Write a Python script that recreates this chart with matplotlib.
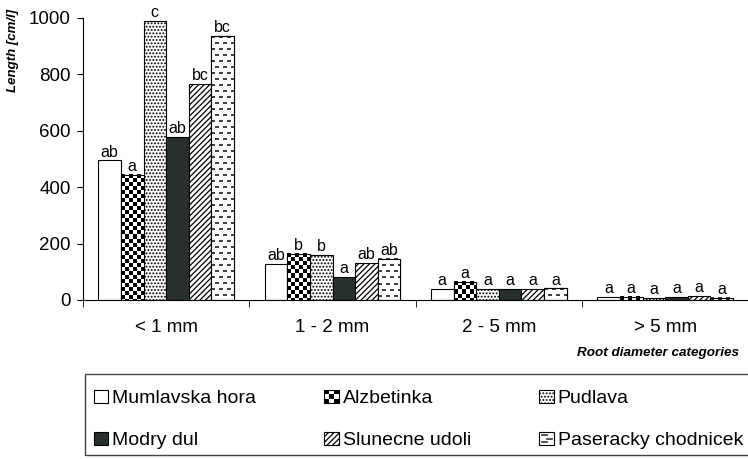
import numpy as np
import matplotlib.pyplot as plt
from matplotlib.patches import Patch, Rectangle
from matplotlib.lines import Line2D
from matplotlib.legend_handler import HandlerBase

plt.rcParams['font.family'] = ['Liberation Sans', 'DejaVu Sans']
plt.rcParams['hatch.linewidth'] = 0.9

categories = ["< 1 mm", "1 - 2 mm", "2 - 5 mm", "> 5 mm"]
sites = ["Mumlavska hora", "Alzbetinka", "Pudlava",
         "Modry dul", "Slunecne udoli", "Paseracky chodnicek"]

mumlavska = [495, 128, 39, 12]
alzbetinka = [445, 164, 64, 12]
pudlava = [990, 160, 39, 8]
modry = [578, 82, 39, 10]
slunecne = [765, 132, 39, 14]
paseracky = [935, 146, 41, 8]
values = [mumlavska, alzbetinka, pudlava, modry, slunecne, paseracky]

letters = [["ab", "ab", "a", "a"],
           ["a", "b", "a", "a"],
           ["c", "b", "a", "a"],
           ["ab", "a", "a", "a"],
           ["bc", "ab", "a", "a"],
           ["bc", "ab", "a", "a"]]


# pixel patterns (1 = white, 0 = dark)
def checker(ny, nx):
    i, j = np.indices((ny, nx))
    return (((i // 4) + (j // 4)) % 2).astype(float)


def dashes(ny, nx):
    i, j = np.indices((ny, nx))
    row = (i % 6) < 2
    on = ((j + 4 * ((i // 6) % 2)) % 8) < 4
    return np.where(row & on, 0.25, 1.0)


# facecolor, hatch, pixel pattern
styles = [("white", None, None),
          ("white", None, checker),
          ("white", ".....", None),
          ("#28302b", None, None),
          ("white", "//////", None),
          ("white", None, dashes)]

fig = plt.figure(figsize=(7.48, 4.59), dpi=100)
ax = fig.add_axes([83 / 748, 1 - 300 / 459, (760 - 83) / 748, (300 - 18) / 459])
ax.set_xlim(-0.5, len(categories) - 0.5 + 0.07)
ax.set_ylim(0, 1000)


def fill_pattern(bar, func):
    x0, y0 = bar.get_x(), bar.get_y()
    x1, y1 = x0 + bar.get_width(), y0 + bar.get_height()
    p0 = ax.transData.transform((x0, y0))
    p1 = ax.transData.transform((x1, y1))
    nx = max(1, int(round(p1[0] - p0[0])))
    ny = max(1, int(round(p1[1] - p0[1])))
    img = func(ny, nx)
    ax.imshow(img, extent=(x0, x1, y0, y1), cmap="gray", vmin=0, vmax=1,
              interpolation="nearest", aspect="auto", origin="upper",
              clip_path=bar, zorder=2.5)


x = np.arange(len(categories))
w = 0.136
for i, (vals, st) in enumerate(zip(values, styles)):
    fc, hatch, func = st
    pos = x + (i - 2.5) * w
    bars = ax.bar(pos, vals, w, facecolor=fc, edgecolor="black",
                  linewidth=0.8, hatch=hatch, zorder=2)
    if func is not None:
        for b in bars:
            fill_pattern(b, func)
        ax.bar(pos, vals, w, fill=False, edgecolor="black", linewidth=0.8, zorder=3)
    for p, v, t in zip(pos, vals, letters[i]):
        ax.text(p, v + 3, t, ha="center", va="bottom", fontsize=11.5)

ax.set_xlim(-0.5, len(categories) - 0.5 + 0.07)
ax.set_ylim(0, 1000)
ax.set_yticks([0, 200, 400, 600, 800, 1000])
ax.tick_params(axis="y", labelsize=13.5, length=4, direction="out", pad=5)
ax.set_xticks(x)
ax.set_xticklabels(categories, fontsize=13.5)
ax.tick_params(axis="x", which="major", length=0, pad=14)
ax.set_xticks(np.arange(len(categories) + 1) - 0.5, minor=True)
ax.tick_params(axis="x", which="minor", length=5, direction="out")
for s in ["top", "right"]:
    ax.spines[s].set_visible(False)

fig.text(13 / 748, 1 - 50 / 459, "Length [cm/l]", rotation=90,
         ha="center", va="center", fontsize=9.5, fontweight="bold",
         fontstyle="italic")
fig.text(739 / 748, 1 - 353 / 459, "Root diameter categories",
         ha="right", va="center", fontsize=9.7, fontweight="bold",
         fontstyle="italic")


class PatternHandler(HandlerBase):
    def __init__(self, kind):
        super().__init__()
        self.kind = kind

    def create_artists(self, legend, orig, xd, yd, width, height, fontsize, trans):
        arts = [Rectangle((xd, yd), width, height, facecolor="white",
                          edgecolor="black", linewidth=0.8, transform=trans)]
        n = 3
        if self.kind == "checker":
            for r in range(n):
                for c in range(n):
                    if (r + c) % 2 == 0:
                        arts.append(Rectangle((xd + c * width / n, yd + r * height / n),
                                              width / n, height / n, facecolor="black",
                                              edgecolor="none", transform=trans))
        else:
            for r, (a, b) in enumerate([(0.2, 0.5), (0.55, 0.85), (0.2, 0.5)]):
                yy = yd + height * (0.25 + r * 0.25)
                arts.append(Line2D([xd + a * width, xd + b * width], [yy, yy],
                                   color="#333333", linewidth=1.2, transform=trans))
        return arts


handles = []
handler_map = {}
for name, st in zip(sites, styles):
    fc, hatch, func = st
    p = Patch(facecolor=fc, edgecolor="black", hatch=hatch, linewidth=0.8, label=name)
    if func is checker:
        handler_map[p] = PatternHandler("checker")
    elif func is dashes:
        handler_map[p] = PatternHandler("dashes")
    handles.append(p)

# legend frame drawn separately so the spacing inside can be set freely
frame = Rectangle((85 / 748, 1 - 455 / 459), (770 - 85) / 748, (455 - 374) / 459,
                  transform=fig.transFigure, facecolor="none",
                  edgecolor="#444444", linewidth=1.0)
fig.patches.append(frame)

order = [0, 3, 1, 4, 2, 5]
leg = fig.legend(handles=[handles[k] for k in order], handler_map=handler_map,
                 ncol=3, loc="upper left",
                 bbox_to_anchor=(85 / 748, 1 - 381 / 459, (752 - 85) / 748, 0.0),
                 mode="expand", fontsize=14, frameon=False,
                 handlelength=0.75, handleheight=0.7,
                 handletextpad=0.2, labelspacing=1.26, borderpad=0.45,
                 borderaxespad=0.0)

fig.savefig("out.png", dpi=100)
